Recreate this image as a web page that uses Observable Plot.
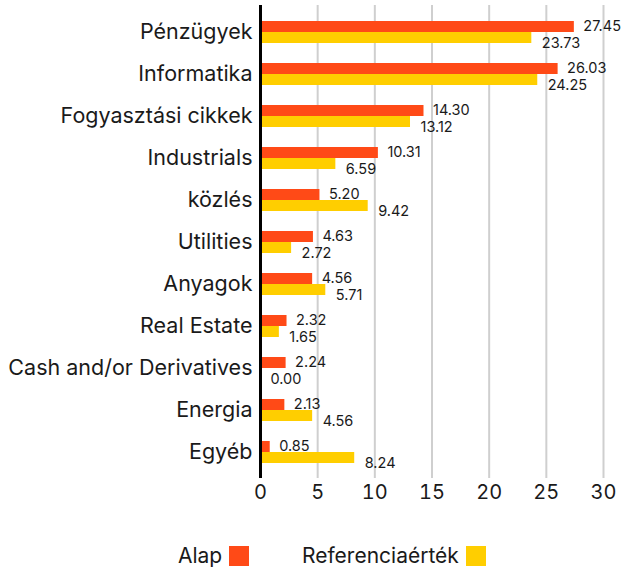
<!DOCTYPE html>
<html><head><meta charset="utf-8">
<script src="https://cdn.jsdelivr.net/npm/d3@7"></script>
<script src="https://cdn.jsdelivr.net/npm/@observablehq/plot@0.6"></script>
<style>
body{margin:0;background:#fff;font-family:Inter,"Open Sans",sans-serif;}
#chart svg{overflow:visible}
.legend{height:54px;font-size:21px;color:#1a1a1a;position:relative}
.legend .item{position:absolute;top:23px;display:flex;align-items:center}
.legend .sw{display:inline-block;width:20px;height:20px;margin-left:7px}
</style></head>
<body>
<div id="chart"></div>
<div class="legend">
  <span class="item" style="left:178px">Alap<span class="sw" style="background:#FF4A17"></span></span>
  <span class="item" style="left:302px">Referenciaérték<span class="sw" style="background:#FFCE00"></span></span>
</div>
<script>
const categories = ["Pénzügyek","Informatika","Fogyasztási cikkek","Industrials","közlés","Utilities","Anyagok","Real Estate","Cash and/or Derivatives","Energia","Egyéb"];
const alap = [27.45,26.03,14.30,10.31,5.20,4.63,4.56,2.32,2.24,2.13,0.85];
const referencia = [23.73,24.25,13.12,6.59,9.42,2.72,5.71,1.65,0.00,4.56,8.24];
const xTicks = [0,5,10,15,20,25,30];

const red = "#FF4A17", yellow = "#FFCE00";
const dataA = categories.map((c,i)=>({cat:c, v:alap[i]}));
const dataR = categories.map((c,i)=>({cat:c, v:referencia[i]}));

const chart = Plot.plot({
  width: 622,
  height: 520,
  marginLeft: 260,
  marginRight: 19,
  marginTop: 5,
  marginBottom: 42,
  style: {fontFamily: "Inter, 'Open Sans', sans-serif", color: "#1a1a1a", background: "#fff"},
  x: {domain: [0, 30], ticks: xTicks, tickSize: 0, tickPadding: 6, label: null, tickFormat: d => String(d)},
  y: {domain: categories, paddingInner: 0.48, paddingOuter: 0.3, align: 0.5, tickSize: 0, tickPadding: 8, label: null},
  marks: [
    Plot.ruleX(xTicks.filter(d => d > 0), {stroke: "#cfcfcf", strokeWidth: 2}),
    Plot.barX(dataA, {y: "cat", x: "v", fill: red, insetBottom: 11}),
    Plot.barX(dataR, {y: "cat", x: "v", fill: yellow, insetTop: 11}),
    Plot.text(dataA, {y: "cat", x: "v", text: d => d.v.toFixed(2), dx: 9, dy: -6, textAnchor: "start", fontSize: 14.5, fill: "#1a1a1a"}),
    Plot.text(dataR, {y: "cat", x: "v", text: d => d.v.toFixed(2), dx: 10, dy: 11, textAnchor: "start", fontSize: 14.5, fill: "#1a1a1a"}),
    Plot.ruleX([0], {stroke: "#000", strokeWidth: 3})
  ]
});
chart.querySelectorAll('[aria-label="x-axis tick label"]').forEach(g => g.setAttribute("font-size", "20"));
chart.querySelectorAll('[aria-label="y-axis tick label"]').forEach(g => g.setAttribute("font-size", "21.5"));
document.getElementById("chart").appendChild(chart);
</script>
</body></html>
